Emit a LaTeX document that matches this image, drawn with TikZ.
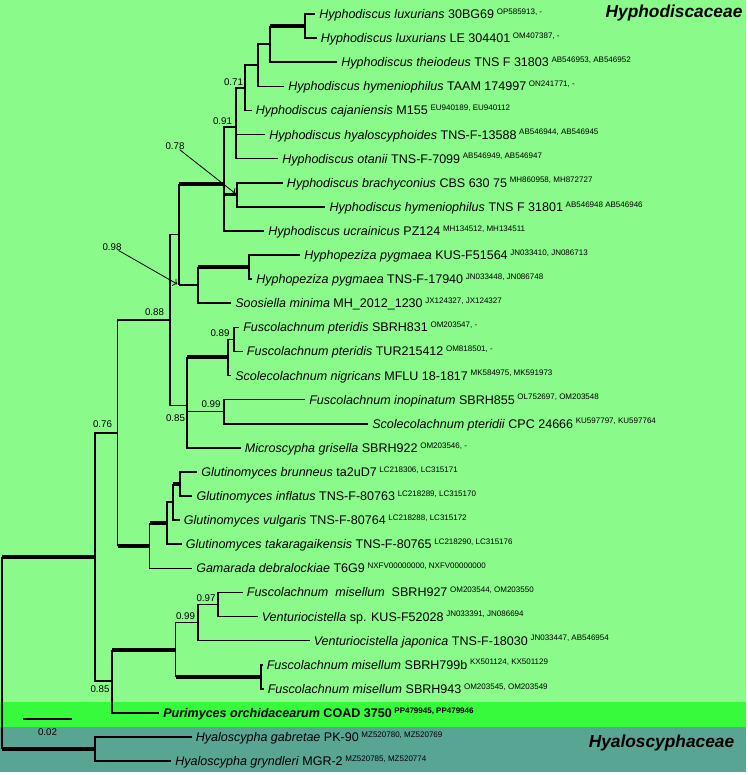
\documentclass[tikz,border=0pt]{standalone}
\usepackage{fontspec}
\setmainfont{Liberation Sans}
\usetikzlibrary{arrows.meta}
\definecolor{hyphobg}{RGB}{138,250,138}
\definecolor{purbg}{RGB}{55,250,60}
\definecolor{hyalobg}{RGB}{88,165,148}
\newcommand{\acc}[1]{\hspace{2pt}\raisebox{3.2pt}{\fontsize{6}{6.5}\selectfont #1}}

\begin{document}
\begin{tikzpicture}[x=0.75pt,y=-0.75pt,
    br/.style={line width=1.2pt},
    thk/.style={line width=3pt},
    mid/.style={line width=1.9pt},
    arr/.style={->,line width=0.6pt,shorten >=1.5pt},
    tip/.style={anchor=west,inner xsep=3pt,inner ysep=0pt,text height=6.8pt,text depth=0pt,font=\fontsize{9.4}{11}\selectfont},
    sup/.style={inner sep=0pt,font=\fontsize{7.3}{8}\selectfont},
    fam/.style={inner sep=0pt,font=\fontsize{13}{15}\selectfont\bfseries\itshape}]
    \useasboundingbox (0,0) rectangle (748,775);

    % 背景
    \fill[white] (0,0) rectangle (748,775);
    \fill[hyphobg] (0,0) rectangle (746,701.7);
    \fill[purbg] (0,701.7) rectangle (746,727.3);
    \fill[hyalobg] (0,727.3) rectangle (746,771.7);

    % 科名
    \node[fam] (hyphodiscaceae) at (674,13) {Hyphodiscaceae};
    \node[fam] (hyaloscyphaceae) at (661.5,743) {Hyaloscyphaceae};

    % 内部節
    \coordinate (root) at (2,653);
    \coordinate (ingrp) at (95,557.1);
    \coordinate (hyalo) at (95,749.05);
    \coordinate (n076) at (117.5,432.9);
    \coordinate (n085b) at (112,681.25);
    \coordinate (n088) at (170,320.1);
    \coordinate (glut) at (149.6,545.7);
    \coordinate (n098) at (179,234.65);
    \coordinate (n085a) at (187,405.6);
    \coordinate (hyphod) at (224,184.2);
    \coordinate (hyphop) at (198,285.1);
    \coordinate (pygm) at (249,267.05);
    \coordinate (n091) at (236,127);
    \coordinate (n078) at (237,194.75);
    \coordinate (n071) at (245,87.8);
    \coordinate (hdA) at (258,65.2);
    \coordinate (hdB) at (270,44.1);
    \coordinate (luxur) at (305,26.05);
    \coordinate (fuscA) at (228,357.4);
    \coordinate (n089) at (234,339.35);
    \coordinate (n099a) at (224,411.65);
    \coordinate (glutA) at (166.7,523.1);
    \coordinate (glutB) at (172.7,502);
    \coordinate (glutC) at (180,483.95);
    \coordinate (misel) at (175.6,649.6);
    \coordinate (n099b) at (198,622.5);
    \coordinate (n097) at (218,604.45);
    \coordinate (miselB) at (261,676.75);

    % 末端
    \node[tip] (t01) at (315,14) {\textit{Hyphodiscus luxurians} 30BG69\acc{OP585913, -}};
    \node[tip] (t02) at (316.5,38.1) {\textit{Hyphodiscus luxurians} LE 304401\acc{OM407387, -}};
    \node[tip] (t03) at (337,62.2) {\textit{Hyphodiscus theiodeus} TNS F 31803\acc{AB546953, AB546952}};
    \node[tip] (t04) at (284,86.3) {\textit{Hyphodiscus hymeniophilus} TAAM 174997\acc{ON241771, -}};
    \node[tip] (t05) at (251.5,110.4) {\textit{Hyphodiscus cajaniensis} M155\acc{EU940189, EU940112}};
    \node[tip] (t06) at (265,134.5) {\textit{Hyphodiscus hyaloscyphoides} TNS-F-13588\acc{AB546944, AB546945}};
    \node[tip] (t07) at (278,158.6) {\textit{Hyphodiscus otanii} TNS-F-7099\acc{AB546949, AB546947}};
    \node[tip] (t08) at (282.7,182.7) {\textit{Hyphodiscus brachyconius} CBS 630 75\acc{MH860958, MH872727}};
    \node[tip] (t09) at (325.4,206.8) {\textit{Hyphodiscus hymeniophilus} TNS F 31801\acc{AB546948 AB546946}};
    \node[tip] (t10) at (264,230.9) {\textit{Hyphodiscus ucrainicus} PZ124\acc{MH134512, MH134511}};
    \node[tip] (t11) at (300,255) {\textit{Hyphopeziza pygmaea} KUS-F51564\acc{JN033410, JN086713}};
    \node[tip] (t12) at (252,279.1) {\textit{Hyphopeziza pygmaea} TNS-F-17940\acc{JN033448, JN086748}};
    \node[tip] (t13) at (231,303.2) {\textit{Soosiella minima} MH\_2012\_1230\acc{JX124327, JX124327}};
    \node[tip] (t14) at (239,327.3) {\textit{Fuscolachnum pteridis} SBRH831\acc{OM203547, -}};
    \node[tip] (t15) at (242.7,351.4) {\textit{Fuscolachnum pteridis} TUR215412\acc{OM818501, -}};
    \node[tip] (t16) at (231,375.5) {\textit{Scolecolachnum nigricans} MFLU 18-1817\acc{MK584975, MK591973}};
    \node[tip] (t17) at (305,399.6) {\textit{Fuscolachnum inopinatum} SBRH855\acc{OL752697, OM203548}};
    \node[tip] (t18) at (368,423.7) {\textit{Scolecolachnum pteridii} CPC 24666\acc{KU597797, KU597764}};
    \node[tip] (t19) at (240.6,447.8) {\textit{Microscypha grisella} SBRH922\acc{OM203546, -}};
    \node[tip] (t20) at (197,471.9) {\textit{Glutinomyces brunneus} ta2uD7\acc{LC218306, LC315171}};
    \node[tip] (t21) at (192.3,496) {\textit{Glutinomyces inflatus} TNS-F-80763\acc{LC218289, LC315170}};
    \node[tip] (t22) at (179.5,520.1) {\textit{Glutinomyces vulgaris} TNS-F-80764\acc{LC218288, LC315172}};
    \node[tip] (t23) at (181.5,544.2) {\textit{Glutinomyces takaragaikensis} TNS-F-80765\acc{LC218290, LC315176}};
    \node[tip] (t24) at (192,568.3) {\textit{Gamarada debralockiae} T6G9\acc{NXFV00000000, NXFV00000000}};
    \node[tip] (t25) at (242.6,592.4) {\textit{Fuscolachnum\ \ misellum}\ \ SBRH927\acc{OM203544, OM203550}};
    \node[tip] (t26) at (257.5,616.5) {\textit{Venturiocistella} sp. KUS-F52028\acc{JN033391, JN086694}};
    \node[tip] (t27) at (309.5,640.6) {\textit{Venturiocistella japonica} TNS-F-18030\acc{JN033447, AB546954}};
    \node[tip] (t28) at (262.5,664.7) {\textit{Fuscolachnum misellum} SBRH799b\acc{KX501124, KX501129}};
    \node[tip] (t29) at (263.5,688.8) {\textit{Fuscolachnum misellum} SBRH943\acc{OM203545, OM203549}};
    \node[tip] (t30) at (159,712.9) {\textbf{\textit{Purimyces orchidacearum} COAD 3750}\acc{\bfseries PP479945, PP479946}};
    \node[tip] (t31) at (191.5,737) {\textit{Hyaloscypha gabretae} PK-90\acc{MZ520780, MZ520769}};
    \node[tip] (t32) at (171,761.1) {\textit{Hyaloscypha gryndleri} MGR-2\acc{MZ520785, MZ520774}};

    % 根
    \draw[br] (root |- ingrp) -- (root |- hyalo);
    \draw[thk] (root |- ingrp) -- (ingrp);
    \draw[thk] (root |- hyalo) -- (hyalo);
    \draw[br] (hyalo) |- (t31.west);
    \draw[br] (hyalo) |- (t32.west);
    \draw[br] (ingrp) |- (n076);
    \draw[br] (ingrp) |- (n085b);

    % 0.76
    \draw[br] (n076) |- (n088);
    \draw[br] (n076) -- (n076 |- glut);
    \draw[thk] (n076 |- glut) -- (glut);
    \draw[br] (n088) |- (n098);
    \draw[br] (n088) |- (n085a);

    % Hyphodiscus
    \draw[mid] (n098 |- hyphod) -- (n098 |- hyphop);
    \draw[thk] (n098 |- hyphod) -- (hyphod);
    \draw[br] (n098 |- hyphop) -- (hyphop);
    \draw[br] (hyphod) |- (n091);
    \draw[mid] (hyphod) |- (n078);
    \draw[br] (hyphod) |- (t10.west);
    \draw[br] (n078) |- (t08.west);
    \draw[br] (n078) |- (t09.west);
    \draw[mid] (n078 |- t08.west) -- (n078 |- t09.west);
    \draw[br] (n091) |- (n071);
    \draw[br] (n091) |- (t06.west);
    \draw[br] (n091) |- (t07.west);
    \draw[br] (n071) |- (hdA);
    \draw[br] (n071) |- (t05.west);
    \draw[br] (hdA) |- (hdB);
    \draw[br] (hdA) |- (t04.west);
    \draw[br] (hdB) -- (hdB |- luxur);
    \draw[thk] (hdB |- luxur) -- (luxur);
    \draw[br] (hdB) |- (t03.west);
    \draw[br] (luxur) |- (t01.west);
    \draw[br] (luxur) |- (t02.west);

    % Hyphopeziza, Soosiella
    \draw[br] (hyphop) -- (hyphop |- pygm);
    \draw[thk] (hyphop |- pygm) -- (pygm);
    \draw[br] (hyphop) |- (t13.west);
    \draw[br] (pygm) |- (t11.west);
    \draw[br] (pygm) |- (t12.west);

    % Fuscolachnum, Scolecolachnum
    \draw[br] (n085a) -- (n085a |- fuscA);
    \draw[thk] (n085a |- fuscA) -- (fuscA);
    \draw[br] (n085a) |- (n099a);
    \draw[br] (n085a) |- (t19.west);
    \draw[br] (fuscA) |- (n089);
    \draw[br] (fuscA) |- (t16.west);
    \draw[br] (n089) |- (t14.west);
    \draw[br] (n089) |- (t15.west);
    \draw[br] (n099a) |- (t17.west);
    \draw[br] (n099a) |- (t18.west);

    % Glutinomyces
    \draw[br] (glut) -- (glut |- glutA);
    \draw[thk] (glut |- glutA) -- (glutA);
    \draw[br] (glut) |- (t24.west);
    \draw[br] (glutA) |- (glutB);
    \draw[br] (glutA) |- (t23.west);
    \draw[br] (glutB) -- (glutB |- glutC);
    \draw[thk] (glutB |- glutC) -- (glutC);
    \draw[br] (glutB) |- (t22.west);
    \draw[br] (glutC) |- (t20.west);
    \draw[br] (glutC) |- (t21.west);

    % misellum, Purimyces
    \draw[br] (n085b) -- (n085b |- misel);
    \draw[thk] (n085b |- misel) -- (misel);
    \draw[br] (n085b) |- (t30.west);
    \draw[br] (misel) |- (n099b);
    \draw[br] (misel) -- (misel |- miselB);
    \draw[thk] (misel |- miselB) -- (miselB);
    \draw[br] (n099b) |- (n097);
    \draw[br] (n099b) |- (t27.west);
    \draw[br] (n097) |- (t25.west);
    \draw[br] (n097) |- (t26.west);
    \draw[br] (miselB) |- (t28.west);
    \draw[br] (miselB) |- (t29.west);

    % 支持値
    \node[sup] (s076) at (102.5,424) {0.76};
    \node[sup] (s088) at (154.5,311.7) {0.88};
    \node[sup] (s098) at (112,246.7) {0.98};
    \node[sup] (s078) at (175,146) {0.78};
    \node[sup] (s091) at (222.5,120.7) {0.91};
    \node[sup] (s071) at (233.5,81.7) {0.71};
    \node[sup] (s089) at (220,333) {0.89};
    \node[sup] (s099a) at (211,404) {0.99};
    \node[sup] (s085a) at (175.5,418) {0.85};
    \node[sup] (s097) at (206,598) {0.97};
    \node[sup] (s099b) at (185.5,616) {0.99};
    \node[sup] (s085b) at (100,689) {0.85};
    \draw[arr] (s078) -- (n078);
    \draw[arr] (s098) -- (n098 |- hyphop);

    % スケール
    \coordinate (sb1) at (23,719);
    \coordinate (sb2) at (72,719);
    \draw[br] (sb1) -- (sb2);
    \node[sup] (sblab) at (47.5,732) {0.02};
\end{tikzpicture}
\end{document}
